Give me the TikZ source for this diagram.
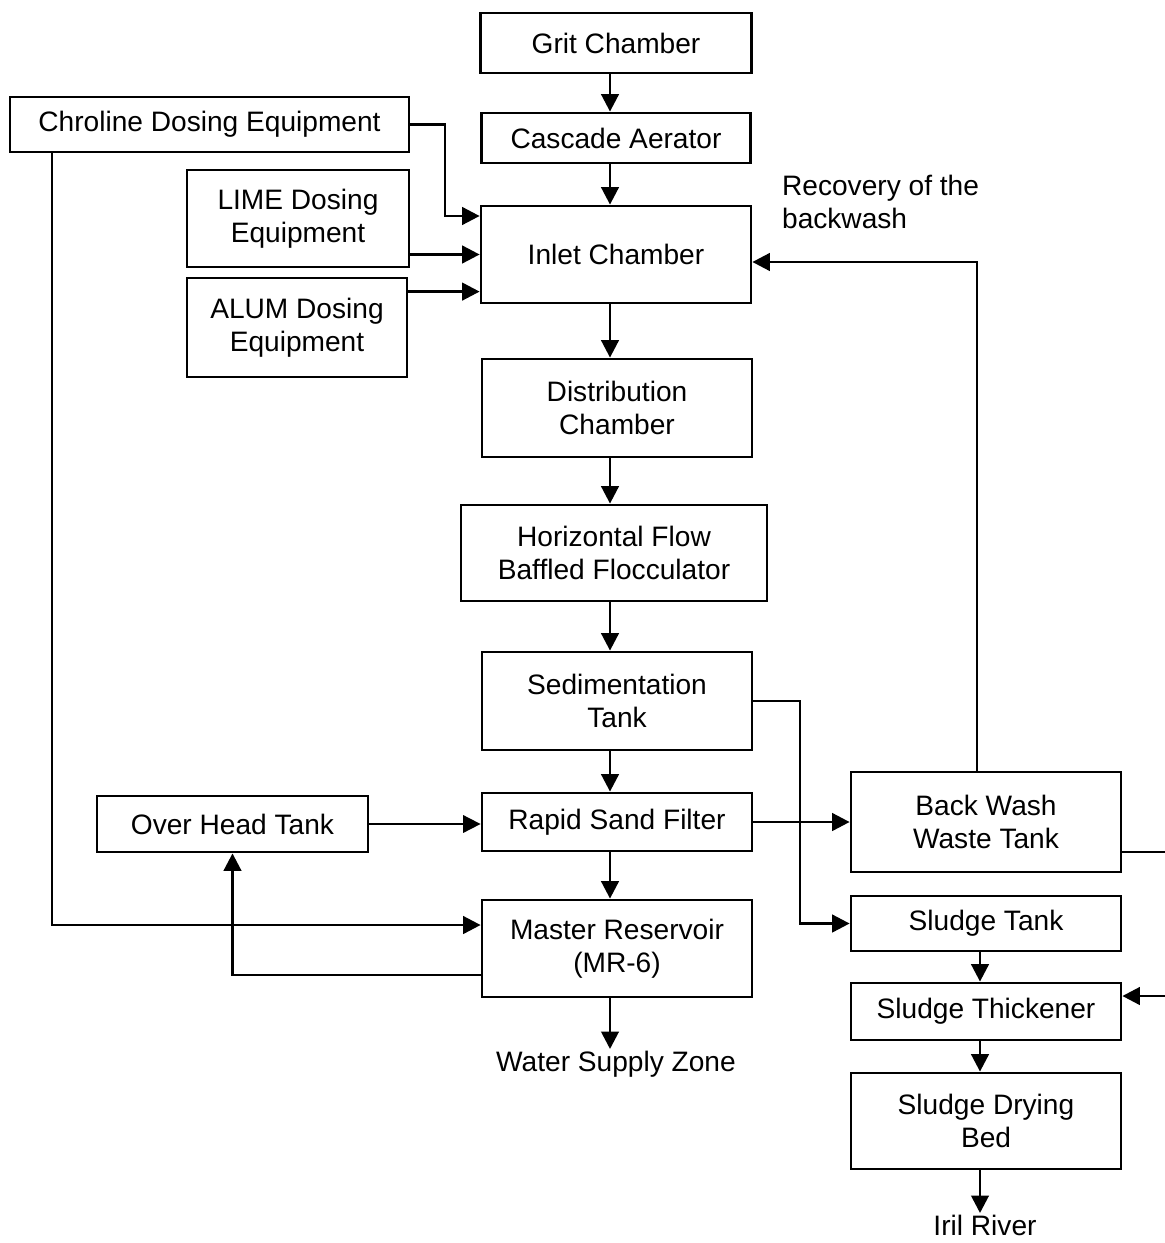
\documentclass[tikz,border=0pt]{standalone}
\usepackage{fontspec}
\setmainfont{Liberation Sans}
\usepackage{tikz}
\usetikzlibrary{arrows.meta,positioning}
\tikzset{
  unit/.style={draw, rectangle, line width=1.6pt, align=center, inner sep=2pt,
               font=\fontsize{16}{19}\selectfont},
  lbl/.style={align=left, inner sep=1pt, font=\fontsize{16}{19}\selectfont},
  flow/.style={line width=1.6pt, -{Triangle[length=3.5mm,width=3.5mm]}},
  thinflow/.style={line width=1pt, -{Triangle[length=3.5mm,width=3.5mm]}},
}

\begin{document}
\begin{tikzpicture}[x=0.02cm, y=-0.02cm]
  \useasboundingbox (0,0) rectangle (1164,1243);
  % treatment train
  \node[unit, minimum width=5.42cm, minimum height=1.2cm]  (grit)    at (616,43)    {Grit Chamber};
  \node[unit, minimum width=5.38cm, minimum height=1.0cm]  (cascade) at (616,138)   {Cascade Aerator};
  \node[unit, minimum width=5.4cm,  minimum height=1.94cm] (inlet)   at (616,254.5) {Inlet Chamber};
  \node[unit, minimum width=5.4cm,  minimum height=1.96cm] (distrib) at (617,408)   {Distribution\\Chamber};
  \node[unit, minimum width=6.12cm, minimum height=1.92cm] (floc)    at (614,553)   {Horizontal Flow\\Baffled Flocculator};
  \node[unit, minimum width=5.4cm,  minimum height=1.96cm] (sed)     at (617,701)   {Sedimentation\\Tank};
  \node[unit, minimum width=5.4cm,  minimum height=1.16cm] (rsf)     at (617,822)   {Rapid Sand Filter};
  \node[unit, minimum width=5.4cm,  minimum height=1.94cm] (mr)      at (617,948.5) {Master Reservoir\\(MR-6)};
  % dosing
  \node[unit, minimum width=7.98cm, minimum height=1.1cm]  (chlor)   at (209.5,124.5) {Chroline Dosing Equipment};
  \node[unit, minimum width=4.44cm, minimum height=1.94cm] (lime)    at (298,218.5) {LIME Dosing\\Equipment};
  \node[unit, minimum width=4.4cm,  minimum height=1.98cm] (alum)    at (297,327.5) {ALUM Dosing\\Equipment};
  \node[unit, minimum width=5.42cm, minimum height=1.12cm] (oht)     at (232.5,824) {Over Head Tank};
  % sludge line
  \node[unit, minimum width=5.4cm, minimum height=2.0cm]  (bwwt)    at (986,822)    {Back Wash\\Waste Tank};
  \node[unit, minimum width=5.4cm, minimum height=1.1cm]  (sludge)  at (986,923.5)  {Sludge Tank};
  \node[unit, minimum width=5.4cm, minimum height=1.14cm] (thick)   at (986,1011.5) {Sludge Thickener};
  \node[unit, minimum width=5.4cm, minimum height=1.92cm] (dry)     at (986,1121)   {Sludge Drying\\Bed};
  % free labels
  \node[lbl, anchor=north] (wsz)  at (616,1049) {Water Supply Zone};
  \node[lbl, anchor=north] (iril) at (985,1213) {Iril River};
  \node[lbl, anchor=west]  (recov) at (780,202) {Recovery of the\\backwash};
  % bend points
  \coordinate (mainx) at (610,0);
  \coordinate (sidex) at (980,0);
  \coordinate (chlbend) at (445,216);
  \coordinate (chlx) at (52,0);
  \coordinate (sedx) at (800,0);
  \coordinate (recx) at (977,0);
  % main flow
  \draw[flow] (grit.south -| mainx) -- (cascade.north -| mainx);
  \draw[flow] (cascade.south -| mainx) -- (inlet.north -| mainx);
  \draw[flow] (inlet.south -| mainx) -- (distrib.north -| mainx);
  \draw[flow] (distrib.south -| mainx) -- (floc.north -| mainx);
  \draw[flow] (floc.south -| mainx) -- (sed.north -| mainx);
  \draw[flow] (sed.south -| mainx) -- (rsf.north -| mainx);
  \draw[flow] (rsf.south -| mainx) -- (mr.north -| mainx);
  \draw[flow] (mr.south -| mainx) -- (wsz.north -| mainx);
  % chemicals
  \draw[flow] (chlor.east) -| (chlbend) -- (chlbend -| inlet.west);
  \draw[flow] (lime.east |- inlet.west) -- (inlet.west);
  \draw[flow] ([yshift=-0.3cm]alum.north east) -- ([yshift=-0.3cm]alum.north east -| inlet.west);
  \draw[flow] (chlx |- chlor.south) |- ([yshift=0.47cm]mr.west);
  % filter and storage
  \draw[thinflow] (oht.east) -- (oht.east -| rsf.west);
  \draw[flow] ([yshift=-0.53cm]mr.west) -| (oht.south);
  \draw[flow] (rsf) -- (bwwt);
  \draw[flow] (sed.east) -- (sed.east -| sedx) |- (sludge.west);
  \draw[flow] (bwwt.north -| recx) |- ([yshift=-0.15cm]inlet.east);
  \draw[flow] ([yshift=-0.6cm]bwwt.east) -- ++(80,0) |- ([yshift=0.31cm]thick.east);
  % sludge handling
  \draw[flow] (sludge.south -| sidex) -- (thick.north -| sidex);
  \draw[flow] (thick.south -| sidex) -- (dry.north -| sidex);
  \draw[flow] (dry.south -| sidex) -- (iril.north -| sidex);
\end{tikzpicture}
\end{document}
